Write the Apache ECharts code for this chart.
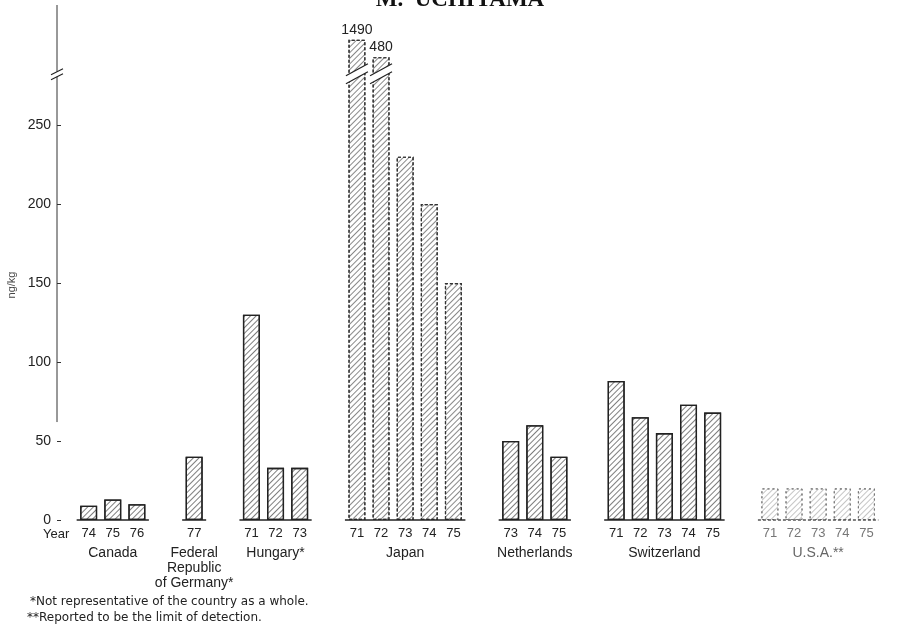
<!DOCTYPE html>
<html>
<head>
<meta charset="utf-8">
<script src="https://cdn.jsdelivr.net/npm/echarts@6/dist/echarts.min.js"></script>
<style>
  html, body { margin: 0; padding: 0; background: #fff; }
  #chart { width: 906px; height: 634px; }
</style>
</head>
<body>
<div id="chart"></div>
<script>
// Residue levels (ng/kg) by country and sampling year
const countries = ['Canada', 'Federal\nRepublic\nof Germany*', 'Hungary*', 'Japan', 'Netherlands', 'Switzerland', 'U.S.A.**'];
const years = [
  [74, 75, 76],
  [77],
  [71, 72, 73],
  [71, 72, 73, 74, 75],
  [73, 74, 75],
  [71, 72, 73, 74, 75],
  [71, 72, 73, 74, 75]
];
const values = [
  [9, 13, 10],
  [40],
  [130, 33, 33],
  [1490, 480, 230, 200, 150],
  [50, 60, 40],
  [88, 65, 55, 73, 68],
  [20, 20, 20, 20, 20]
];
const yTicks = [0, 50, 100, 150, 200, 250];
const yTitle = 'ng/kg';
const xLead = 'Year';
const title = 'M.  UCHIYAMA';
const footnotes = [
  '*Not representative of the country as a whole.',
  '**Reported to be the limit of detection.'
];

// axis break: values between these ranges are collapsed
const BREAKS = [
  { start: 280, end: 472, gap: 5 },
  { start: 484, end: 1488, gap: 5 }
];
const BREAK_AT = 280;
const AXIS_MAX = 1512;

// slot layout on the fine category axis
const LEAD = 10, STEP = 8, GAP = 19, TRAIL = 8;
const FONT = 'Liberation Sans, Arial, Helvetica, sans-serif';

const hatch = (color) => ({
  symbol: 'rect',
  symbolSize: 1,
  dashArrayX: [1, 0],
  dashArrayY: [1, 3],
  rotation: -Math.PI / 4,
  color: color
});

function barStyle(g) {
  const name = countries[g];
  if (name.startsWith('U.S.A')) {
    return { color: '#fff', borderColor: '#777', borderWidth: 1, borderType: [2, 3], decal: hatch('rgba(90,90,90,0.35)') };
  }
  if (name === 'Japan') {
    return { color: '#fff', borderColor: '#333', borderWidth: 1.2, borderType: [3, 2], decal: hatch('rgba(40,40,40,0.55)') };
  }
  return { color: '#fff', borderColor: '#222', borderWidth: 1.3, decal: hatch('rgba(40,40,40,0.6)') };
}

const yearCats = [], nameCats = [], barData = [], groupSpans = [], brokenBars = [];
function blank() { yearCats.push(''); nameCats.push(''); barData.push('-'); }
for (let i = 0; i < LEAD; i++) blank();
countries.forEach((c, g) => {
  if (g > 0) for (let i = 0; i < GAP - 1; i++) blank();
  const first = yearCats.length;
  const faint = c.startsWith('U.S.A');
  years[g].forEach((yr, k) => {
    if (k > 0) for (let i = 0; i < STEP - 1; i++) blank();
    const idx = yearCats.length;
    yearCats.push({ value: String(yr), textStyle: { color: faint ? '#777' : '#222' } });
    nameCats.push(k === Math.floor(years[g].length / 2)
      ? { value: c, textStyle: { color: faint ? '#666' : '#222' } } : '');
    const v = values[g][k];
    const item = { value: v, itemStyle: barStyle(g) };
    if (v > BREAK_AT) {
      item.label = { show: true, position: 'top', distance: 3, fontSize: 14, fontFamily: FONT, color: '#222', formatter: String(v) };
      brokenBars.push([idx, v]);
    }
    barData.push(item);
  });
  groupSpans.push([first, yearCats.length - 1, 0, g]);
});
for (let i = 0; i < TRAIL; i++) blank();

const chart = echarts.init(document.getElementById('chart'), null, { renderer: 'canvas' });

const option = {
  backgroundColor: '#fff',
  animation: false,
  grid: { left: 57, right: 14, top: 5, bottom: 114, containLabel: false },
  xAxis: [
    {
      type: 'category',
      data: yearCats,
      boundaryGap: true,
      axisLine: { show: false },
      axisTick: { show: false },
      axisLabel: { interval: 0, margin: 7, fontSize: 13, fontFamily: FONT, color: '#222' },
      splitLine: { show: false }
    },
    {
      type: 'category',
      data: nameCats,
      position: 'bottom',
      boundaryGap: true,
      axisLine: { show: false },
      axisTick: { show: false },
      axisLabel: { interval: 0, margin: 26, fontSize: 14, lineHeight: 15, fontFamily: FONT, color: '#222', align: 'center' },
      splitLine: { show: false }
    }
  ],
  yAxis: {
    type: 'value',
    min: 0,
    max: AXIS_MAX,
    breaks: BREAKS,
    breakArea: { show: false },
    axisLine: { show: false },
    axisTick: { show: true, inside: true, length: 4, customValues: yTicks, lineStyle: { color: '#333' } },
    axisLabel: { customValues: yTicks, fontSize: 14, fontFamily: FONT, color: '#222', margin: 6 },
    splitLine: { show: false }
  },
  series: [
    {
      type: 'bar',
      xAxisIndex: 0,
      data: barData,
      barWidth: 17,
      z: 2
    },
    {
      // per-country baseline under each group of bars
      type: 'custom',
      xAxisIndex: 0,
      data: groupSpans,
      encode: { x: [0, 1], y: 2 },
      z: 3,
      renderItem: (params, api) => {
        const a = api.coord([api.value(0), 0]);
        const b = api.coord([api.value(1), 0]);
        const faint = countries[api.value(3)].startsWith('U.S.A');
        return {
          type: 'line',
          shape: { x1: a[0] - 12, y1: a[1], x2: b[0] + 12, y2: b[1] },
          style: { stroke: faint ? '#555' : '#222', lineWidth: 1.5, lineDash: faint ? [3, 2] : null }
        };
      }
    },
    {
      // slanted break marks across bars that run past the axis break
      type: 'custom',
      xAxisIndex: 0,
      data: brokenBars,
      encode: { x: 0, y: 1 },
      z: 4,
      renderItem: (params, api) => {
        const x = api.coord([api.value(0), 0])[0];
        const y = api.coord([api.value(0), BREAK_AT])[1];
        const hw = 11, rise = 6, h = 8;
        return {
          type: 'group',
          children: [
            { type: 'polygon', shape: { points: [[x - hw, y + rise], [x + hw, y - rise], [x + hw, y - rise - h], [x - hw, y + rise - h]] }, style: { fill: '#fff' } },
            { type: 'line', shape: { x1: x - hw, y1: y + rise, x2: x + hw, y2: y - rise }, style: { stroke: '#222', lineWidth: 1.2 } },
            { type: 'line', shape: { x1: x - hw, y1: y + rise - h, x2: x + hw, y2: y - rise - h }, style: { stroke: '#222', lineWidth: 1.2 } }
          ]
        };
      }
    }
  ]
};
chart.setOption(option);

// vertical axis line and break symbol, placed from the axis scale
const gridLeft = 57;
const breakY = chart.convertToPixel({ yAxisIndex: 0 }, BREAK_AT);
const zeroY = chart.convertToPixel({ yAxisIndex: 0 }, 0);
const lowY = chart.convertToPixel({ yAxisIndex: 0 }, 62);
const topY = chart.convertToPixel({ yAxisIndex: 0 }, AXIS_MAX);

chart.setOption({
  graphic: [
    {
      type: 'text', z: 10, x: 460, y: 12,
      style: { text: title, font: 'bold 23px "Liberation Serif", "Times New Roman", serif', fill: '#111', textAlign: 'center', textVerticalAlign: 'bottom' }
    },
    {
      type: 'line', z: 9,
      shape: { x1: gridLeft, y1: lowY, x2: gridLeft, y2: breakY - 1 },
      style: { stroke: '#333', lineWidth: 1 }
    },
    {
      type: 'line', z: 9,
      shape: { x1: gridLeft, y1: breakY - 6, x2: gridLeft, y2: topY },
      style: { stroke: '#333', lineWidth: 1 }
    },
    {
      type: 'line', z: 11,
      shape: { x1: gridLeft - 6, y1: breakY + 2, x2: gridLeft + 6, y2: breakY - 4 },
      style: { stroke: '#222', lineWidth: 1.2 }
    },
    {
      type: 'line', z: 11,
      shape: { x1: gridLeft - 6, y1: breakY - 3, x2: gridLeft + 6, y2: breakY - 9 },
      style: { stroke: '#222', lineWidth: 1.2 }
    },
    {
      type: 'text', z: 10,
      x: 12, y: 285, rotation: Math.PI / 2,
      style: { text: yTitle, font: '11px ' + FONT, fill: '#444', textAlign: 'center', textVerticalAlign: 'middle' }
    },
    {
      type: 'text', z: 10, x: 43, y: zeroY + 14,
      style: { text: xLead, font: '13px ' + FONT, fill: '#222', textVerticalAlign: 'middle' }
    },
    {
      type: 'text', z: 10, x: 30, y: 602,
      style: { text: footnotes[0], font: '12px "DejaVu Sans", sans-serif', fill: '#222', textVerticalAlign: 'middle' }
    },
    {
      type: 'text', z: 10, x: 27, y: 618,
      style: { text: footnotes[1], font: '12px "DejaVu Sans", sans-serif', fill: '#222', textVerticalAlign: 'middle' }
    }
  ]
});
</script>
</body>
</html>
